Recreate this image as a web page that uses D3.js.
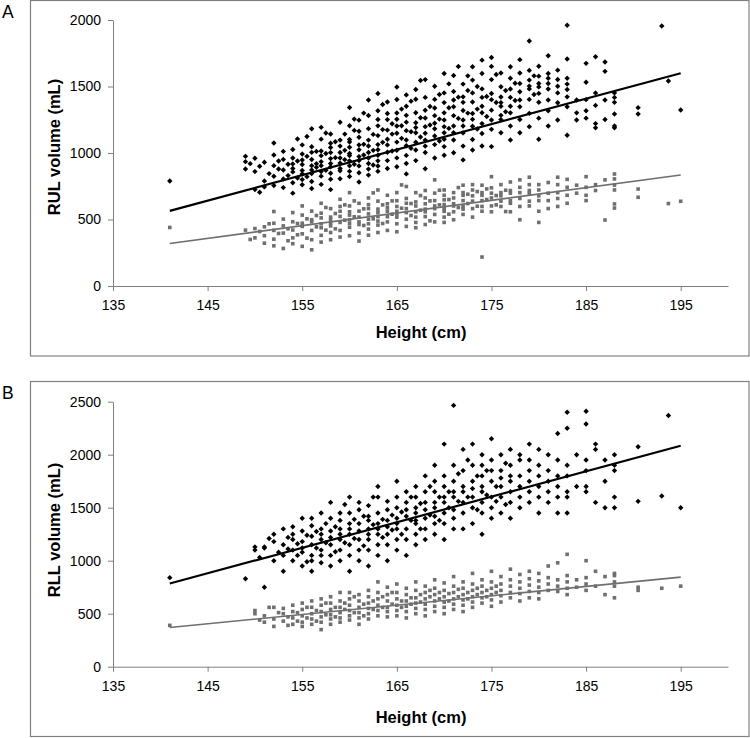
<!DOCTYPE html>
<html><head><meta charset="utf-8">
<script src="https://cdn.jsdelivr.net/npm/d3@7"></script>
<style>body{margin:0;background:#fff}svg{display:block;font-family:Arial,"Liberation Sans",sans-serif}</style>
</head><body><svg id="c" width="750" height="738"></svg>
<script>
// ---- data ----
const xTicks = [135,145,155,165,175,185,195];
const rulTicks = [0,500,1000,1500,2000];
const rllTicks = [0,500,1000,1500,2000,2500];
// [height (cm), [volumes (mL) ...]]
const rulBlack = [
[141,[790]],[149,[975,935,880]],[149.5,[920]],[150,[960,725,860]],[150.5,[705,900]],[151,[790,930,745]],[151.5,[845]],
[152,[825,1075,905,755,985]],[152.5,[880,940]],[153,[872,952,805,740,1012]],[153.5,[915,830]],
[154,[1026,858,918,776,962,698,884]],[154.5,[1105,812,940]],[155,[913,842,993,1061,800,761,947,868]],[155.5,[1124,975,822]],
[156,[1005,872,951,786,1182,845,905,733,1047]],[156.5,[1012,893,920]],[157,[1193,935,861,1104,980,826,1015,764,905]],
[157.5,[1150,870,996]],[158,[1143,1041,896,958,1073,803,1003,921,848,725]],[158.5,[1085,965]],
[159,[1004,1097,924,866,1231,962,1052,806,883]],[159.5,[1142,950,1020]],
[160,[1342,1205,1043,981,904,862,1101,996,941,823,1083]],[160.5,[1170,915,1255]],
[161,[1163,1024,903,1247,973,1061,851,1118,782,944]],[161.5,[1065,1300,985]],
[162,[1282,1097,1004,921,1183,879,1053,962,1398,834]],[162.5,[1140,1020,910]],
[163,[1204,1063,1318,983,902,1131,1024,862,1447,941,1252]],[163.5,[1176,1365,1080]],
[164,[1103,1251,1006,1384,943,1172,884,1061,1297]],[164.5,[1220,1015,1142]],
[165,[1496,1203,1082,963,1301,1148,1021,1402,897,1254]],[165.5,[1330,1110,1205]],
[166,[1232,1098,1352,982,1437,1054,1168,921,1283,843]],[166.5,[1390,1160,1035]],
[167,[1303,1152,1023,1404,1227,1081,943,1478,1191]],[167.5,[1265,1545,1120]],
[168,[1552,1198,1321,1097,1004,1418,1263,1148,882,1052]],[168.5,[1350,1210]],
[169,[1281,1403,1128,1224,1063,1502,962,1338,1182]],[169.5,[1440,1255,1090]],
[170,[1598,1302,1152,1452,1198,1048,1379,983,1248,1103]],[170.5,[1340,1520,1185]],
[171,[1583,1348,1203,1462,1098,1281,1002,1398,1152]],[171.5,[1260,1650,1420]],
[172,[1422,1248,1319,1151,1518,1052,1381,1203,948]],[172.5,[1470,1300,1580]],
[173,[1648,1297,1452,1201,1383,1102,1548,1253,1022]],[173.5,[1330,1500,1180]],
[174,[1482,1352,1598,1221,1418,1147,1303,1053,1698]],[174.5,[1425,1275]],
[175,[1401,1552,1248,1651,1322,1178,1447,1048,1718]],[175.5,[1380,1590]],
[176,[1498,1352,1283,1602,1421,1152,1379,1251]],[176.5,[1470,1310]],
[177,[1562,1418,1302,1481,1203,1648,1352,1098]],[177.5,[1525,1395]],
[178,[1461,1602,1348,1252,1523,1398,1702,1152]],[179,[1842,1548,1403,1298,1482,1621,1198,1503]],[179.5,[1440,1580]],
[180,[1522,1448,1382,1578,1262,1652,1497,1103]],[181,[1731,1562,1398,1481,1318,1522,1203,1598]],
[182,[1502,1378,1623,1452,1248,1553]],[183,[1960,1707,1518,1422,1562,1348,1133,1478]],[184,[1398,1302,1248]],
[185,[1674,1532,1401,1318,1262]],[186,[1724,1452,1358,1221,1189]],[187,[1684,1614,1398,1252]],
[188,[1452,1418,1381,1293,1203,1190]],[190.5,[1341,1293]],[193,[1955]],[193.7,[1541]],[195,[1323]]
];
const rulGray = [
[141,[440]],[149,[420]],[149.5,[350]],[150,[432,362]],[150.5,[410]],[151,[445,378,322]],[151.5,[468]],
[152,[472,352,418,302,560]],[152.5,[395]],[153,[503,398,282,452]],[153.5,[430,340]],[154,[421,362,483,318,552]],
[154.5,[470,385]],[155,[533,448,392,298,472,602]],[155.5,[505,360]],[156,[482,418,563,348,498,272]],[156.5,[445,530]],
[157,[622,438,512,381,468,548,330]],[157.5,[590,420]],[158,[498,452,582,402,518,348,473]],[158.5,[545,430]],
[159,[562,478,418,652,523,368,598]],[159.5,[495,610]],[160,[602,498,442,533,378,702,471,558]],[160.5,[520,640]],
[161,[518,462,622,398,563,482,338]],[161.5,[580,455]],[162,[582,502,662,428,542,468,382,612]],[162.5,[505,700]],
[163,[638,522,458,578,722,402,552,488]],[163.5,[610,470]],[164,[562,618,482,521,418,682,588]],[164.5,[540,640]],
[165,[598,542,702,468,562,641,408,518]],[165.5,[585,760]],[166,[582,658,502,622,448,552,748]],[166.5,[620,530]],
[167,[632,558,702,478,602,518,438]],[167.5,[570,680]],[168,[662,578,522,718,618,462,558]],[168.5,[640,490]],
[169,[698,602,538,642,482,582,798]],[169.5,[610,720]],[170,[648,582,722,518,612,478,682,562]],[170.5,[650,540]],
[171,[618,702,558,662,498,602]],[171.5,[740,590]],[172,[682,598,758,538,642,578,702]],[172.5,[620,690]],
[173,[722,638,582,678,518,762]],[173.5,[600,710]],[174,[702,642,598,218,758,562,682]],[174.5,[650,730]],
[175,[738,662,602,698,822,558]],[175.5,[680,610]],[176,[702,638,762,598,678]],[176.5,[720,560]],
[177,[782,698,642,718,622,558]],[178,[742,658,702,598,798,498]],[179,[762,698,638,602,818,718]],
[180,[722,678,562,762,642,478]],[181,[698,778,642,582]],[182,[818,702,762,658,598]],[183,[742,682,802,622]],
[184,[758,698]],[185,[822,742,682,642]],[186,[762,718]],[187,[798,496]],[188,[842,805,759,722,617,586]],
[190.5,[729,667]],[193.7,[620]],[195,[637]]
];
const rllBlack = [
[141,[840]],[149,[830]],[150,[1130,1100]],[150.5,[1030]],[151,[1130,1120,750]],[151.5,[1210]],[152,[1250,1000,1180]],
[152.5,[1080]],[153,[1300,1150,1050,900]],[153.5,[1220,1110]],[154,[1320,1200,1100,1000,1250]],[154.5,[1160,1050]],
[155,[1180,1280,1080,1400,950,1120]],[155.5,[1240,990]],[156,[1330,1150,1050,1230,900,1400,1000]],[156.5,[1120,1275]],
[157,[1450,1200,1100,1300,980,1250,1050]],[157.5,[1170,1350]],[158,[1400,1280,1150,1550,1050,1220,950]],[158.5,[1320,1085]],
[159,[1300,1450,1200,1100,1380,1000,1250]],[159.5,[1170,1530]],[160,[1600,1350,1250,1150,1450,1050,1300,900]],
[160.5,[1210,1390]],[161,[1480,1200,1350,1100,1550,1000,1280]],[161.5,[1420,1140]],
[162,[1420,1300,1200,1520,1100,1380,950,1250]],[162.5,[1340,1600]],[163,[1600,1350,1250,1450,1150,1700,1050,1300]],
[163.5,[1390,1220]],[164,[1480,1380,1250,1560,1150,1320,1000]],[164.5,[1430,1290]],
[165,[1600,1400,1300,1500,1200,1350,1750,1100]],[165.5,[1460,1250]],[166,[1550,1420,1300,1650,1200,1480,1050]],
[166.5,[1380,1600]],[167,[1700,1500,1380,1600,1250,1450,1150,1350]],[167.5,[1540,1300]],
[168,[1650,1480,1400,1800,1300,1550,1200]],[168.5,[1430,1700]],[169,[1750,1550,1420,1650,1350,1900,1250,1500]],
[169.5,[1600,1380]],[170,[1700,1600,1450,2100,1350,1550,1200,1800]],[170.5,[1650,1500]],
[171,[2465,1750,1600,1480,1900,1400,1650,1300]],[171.5,[1820,1560]],[172,[1850,1700,1550,2050,1450,1650,1300]],
[172.5,[1600,1950]],[173,[1900,1750,1600,2100,1500,1680,1350]],[173.5,[1800,1480]],
[174,[1800,1650,2000,1550,1900,1450,1700,1250]],[174.5,[1620,1850]],[175,[1950,1750,1600,2150,1500,1850,1400]],
[175.5,[1700,1560]],[176,[1850,1700,2000,1600,1450,1780]],[176.5,[1920,1530]],
[177,[1900,1750,1650,2050,1550,1400,1800]],[178,[2000,1800,1700,1600,1950,1500]],[179,[1850,1750,2100,1650,1550,1950]],
[180,[1900,1800,1700,2050,1600,1450]],[181,[2000,1850,1750,1650,1550]],[182,[1950,1800,2200,1700,1600,1450]],
[183,[2400,2250,1900,1800,1650,1600,1450]],[184,[2000,1700]],[185,[2410,2290,1950,1850,1700,1650]],
[186,[2100,2050,1550]],[187,[1950,1750,1500]],[188,[2000,1900,1850,1600,1500]],[190.5,[2075,1560]],
[193,[1610]],[193.7,[2370]],[195,[1500]]
];
const rllGray = [
[141,[390]],[150,[530,500]],[150.5,[440]],[151,[480,420]],[151.5,[560]],[152,[560,450,380]],[152.5,[510]],
[153,[500,430,550]],[153.5,[470,390]],[154,[520,460,400,580]],[154.5,[430,510]],[155,[540,480,420,600,380]],
[155.5,[460,560]],[156,[560,500,450,620,400]],[156.5,[530,430]],[157,[580,520,470,640,420,350]],[157.5,[490,600]],
[158,[600,540,490,450,660,400]],[158.5,[560,470]],[159,[560,620,510,460,700,420]],[159.5,[540,600]],
[160,[640,580,530,480,700,440]],[160.5,[510,660]],[161,[620,560,510,680,460,400]],[161.5,[590,480]],
[162,[660,600,550,500,720,450]],[162.5,[620,540]],[163,[640,580,530,700,480,800]],[163.5,[560,660]],
[164,[680,620,560,520,750,470]],[164.5,[590,700]],[165,[700,640,580,530,780,480]],[165.5,[620,560]],
[166,[680,620,570,740,520,460]],[166.5,[650,590]],[167,[720,650,600,550,800,500]],[167.5,[680,610]],
[168,[700,640,590,760,540,480]],[168.5,[660,720]],[169,[740,680,620,570,820,520]],[169.5,[640,700]],
[170,[720,660,610,790,560,500]],[170.5,[690,620]],[171,[760,700,640,590,850,540]],[171.5,[730,660]],
[172,[740,680,630,800,580,520]],[172.5,[700,640]],[173,[780,720,660,610,880,560]],[173.5,[740,680]],
[174,[760,700,650,820,600]],[174.5,[720,660]],[175,[800,740,680,630,900,570]],[175.5,[760,700]],
[176,[780,720,670,850,610]],[177,[820,760,700,650,920]],[178,[800,740,690,870,620]],[179,[830,770,710,900,650]],
[180,[810,750,700,880,640]],[181,[840,780,720,950]],[182,[820,760,710,980]],[183,[860,800,740,1060,680]],
[184,[820,750]],[185,[1000,840,780,720]],[186,[900,760]],[187,[850,680]],[188,[880,860,800,760,650]],
[190.5,[750,720]],[193,[740]],[195,[760]]
];
const rulBlackFit = [[141,565],[195,1600]];
const rulGrayFit  = [[141,320],[195,835]];
const rllBlackFit = [[141,785],[195,2085]];
const rllGrayFit  = [[141,370],[195,845]];

// ---- drawing ----
const svg = d3.select("#c");
const flat = g => g.flatMap(([h, vs]) => vs.map(v => [h, v]));

function panel(o){
  const g = svg.append("g");
  g.append("rect").attr("x",30.5).attr("y",o.boxTop).attr("width",718.5).attr("height",o.boxH)
    .attr("fill","none").attr("stroke","#808080").attr("stroke-width",1.2);
  g.append("text").attr("x",o.letterX).attr("y",o.letterY).attr("font-size",17.5).text(o.letter);
  const x = d3.scaleLinear().domain([135,200]).range([113,728]);
  const y = d3.scaleLinear().domain([0,o.yMax]).range([o.y0,o.yTop]);
  const ax = g.append("g").attr("transform",`translate(0,${o.y0})`)
    .call(d3.axisBottom(x).tickValues(xTicks).tickSize(5).tickSizeOuter(0).tickPadding(9).tickFormat(d3.format("d")));
  const ay = g.append("g").attr("transform",`translate(113,0)`)
    .call(d3.axisLeft(y).tickValues(o.ticks).tickSize(5).tickSizeOuter(0).tickPadding(7).tickFormat(d3.format("d")));
  [ax,ay].forEach(a=>{a.selectAll("path,line").attr("stroke","#808080");
    a.selectAll("text").attr("font-size",14).attr("fill","#000").attr("font-family","Arial, 'Liberation Sans', sans-serif");});
  g.append("text").attr("x",421).attr("y",o.xTitleY).attr("text-anchor","middle")
    .attr("font-weight","bold").attr("font-size",16.5).text("Height (cm)");
  g.append("text").attr("transform",`translate(60,${o.yTitleC}) rotate(-90)`).attr("text-anchor","middle")
    .attr("font-weight","bold").attr("font-size",16.5).text(o.yTitle);
  const sq = 3.6;
  g.append("g").selectAll("rect").data(flat(o.gray)).join("rect")
    .attr("x",d=>x(d[0])-sq/2).attr("y",d=>y(d[1])-sq/2).attr("width",sq).attr("height",sq).attr("fill","#6f6f6f");
  const r = 2.7;
  g.append("g").selectAll("path").data(flat(o.black)).join("path")
    .attr("d",d=>{const cx=x(d[0]),cy=y(d[1]);return `M${cx},${cy-r}L${cx+r},${cy}L${cx},${cy+r}L${cx-r},${cy}Z`;})
    .attr("fill","#000");
  const line = d3.line().x(d=>x(d[0])).y(d=>y(d[1]));
  g.append("path").attr("d",line(o.grayFit)).attr("stroke","#6f6f6f").attr("stroke-width",1.6).attr("fill","none");
  g.append("path").attr("d",line(o.blackFit)).attr("stroke","#000").attr("stroke-width",2.2).attr("fill","none");
}
panel({boxTop:0.5,boxH:355.5,letter:"A",letterX:2,letterY:18,yMax:2000,y0:286,yTop:20,ticks:rulTicks,
  xTitleY:338,yTitleC:147,yTitle:"RUL volume (mL)",black:rulBlack,gray:rulGray,blackFit:rulBlackFit,grayFit:rulGrayFit});
panel({boxTop:381.5,boxH:355,letter:"B",letterX:2,letterY:399,yMax:2500,y0:666.7,yTop:401.7,ticks:rllTicks,
  xTitleY:723,yTitleC:530,yTitle:"RLL volume (mL)",black:rllBlack,gray:rllGray,blackFit:rllBlackFit,grayFit:rllGrayFit});
</script></body></html>
